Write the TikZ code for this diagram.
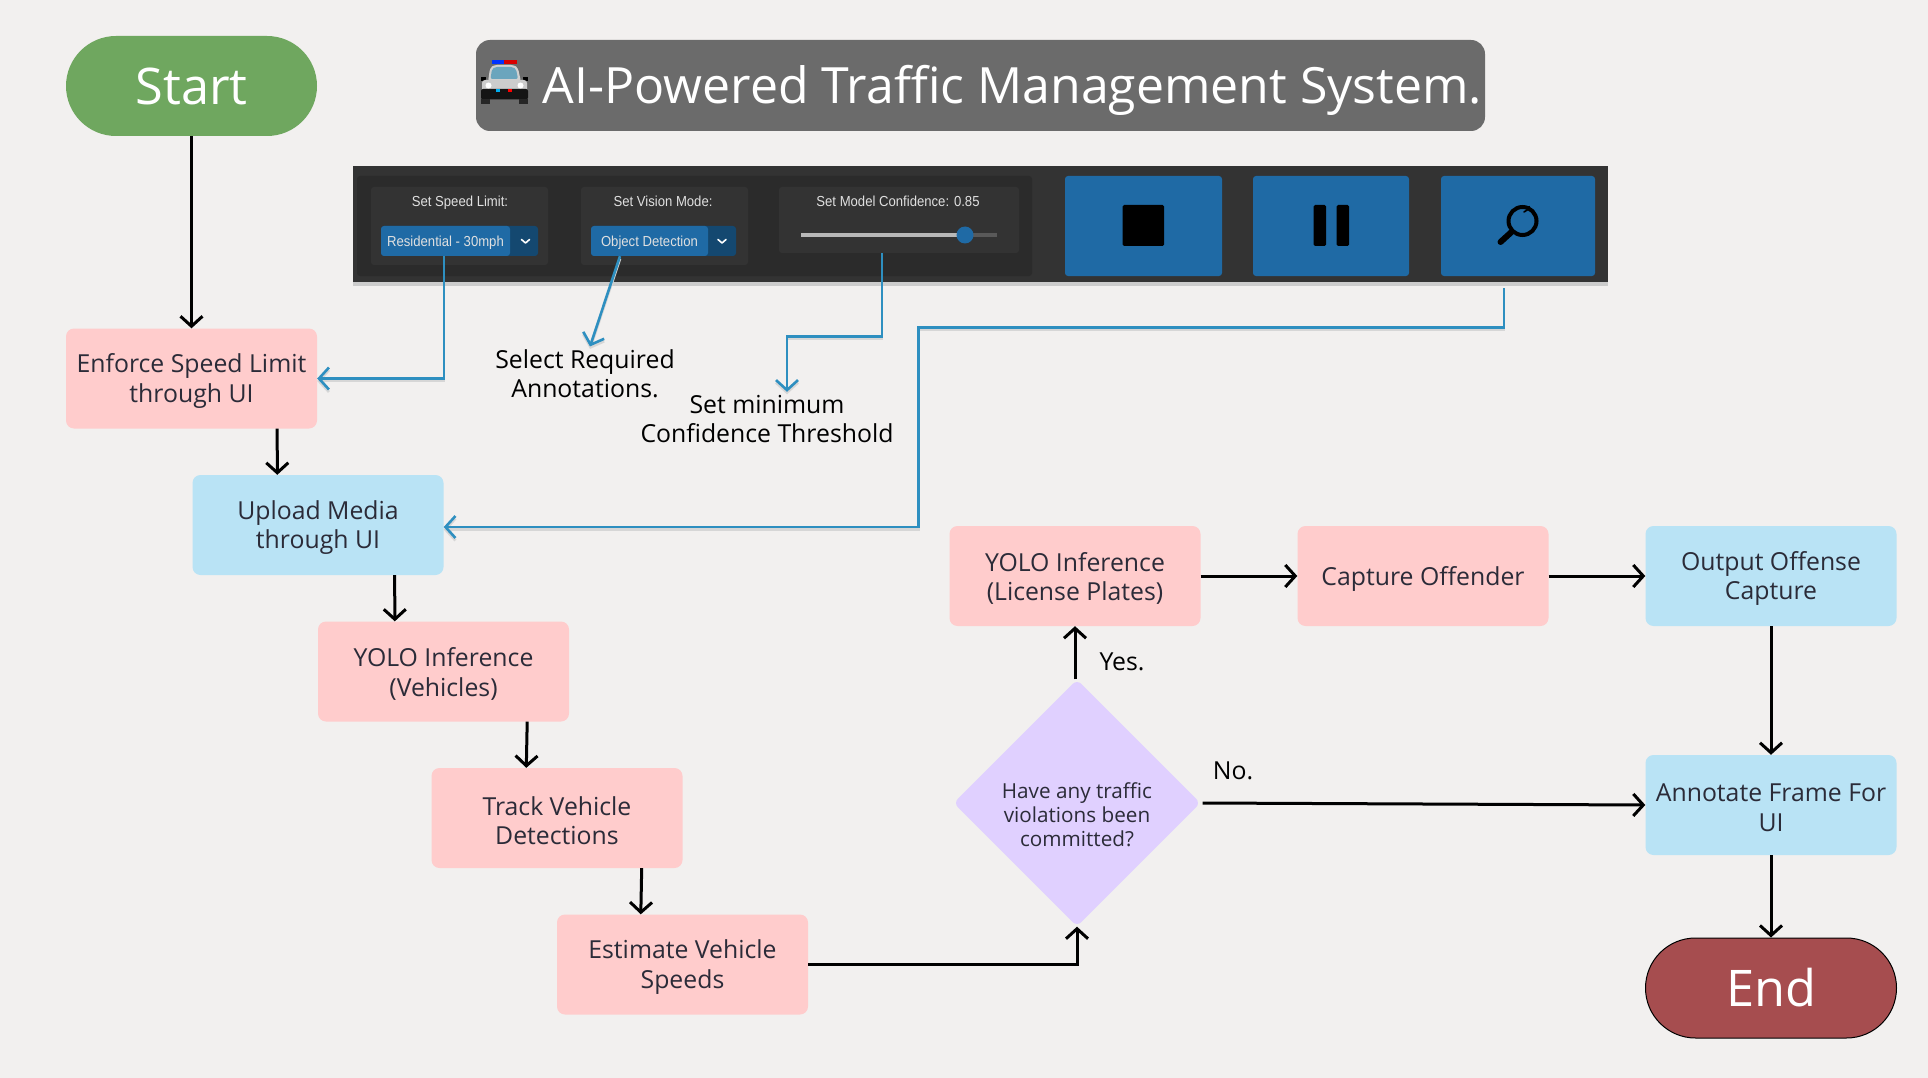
\documentclass[tikz,border=0pt]{standalone}
\usepackage{fontspec}
\usetikzlibrary{shapes.geometric,arrows.meta}
\setmainfont{Open Sans}
\newfontfamily\panelfont[FakeStretch=0.905]{Liberation Sans}

\definecolor{pagebg}{HTML}{F2F0EF}
\definecolor{pinkfill}{HTML}{FFCCCC}
\definecolor{bluefill}{HTML}{B9E3F5}
\definecolor{purplefill}{HTML}{E0D0FF}
\definecolor{startgreen}{HTML}{6FA75F}
\definecolor{endred}{HTML}{A64D4F}
\definecolor{boxtext}{HTML}{2B2B38}
\definecolor{uiblue}{HTML}{1F6AA5}
\definecolor{uidark}{HTML}{144870}
\definecolor{linkblue}{HTML}{2E8FC0}

\tikzset{
  flowbox/.style={rectangle,rounded corners=8pt,minimum width=251pt,minimum height=100pt,inner sep=0pt},
  pinkbox/.style={flowbox,fill=pinkfill},
  bluebox/.style={flowbox,fill=bluefill},
  boxtext/.style={inner sep=0pt,yshift=-2.5pt,align=center,text=boxtext,font=\fontsize{24.8}{29.5}\selectfont},
  pill/.style={rectangle,rounded corners=50pt,minimum width=251pt,minimum height=100pt,inner sep=0pt,text=white,font=\fontsize{50.5}{54}\selectfont},
  flow/.style={black,line width=3pt,-{Straight Barb[length=10pt,width=22pt,line width=3pt]}},
  link/.style={linkblue,line width=2.6pt,-{Straight Barb[length=10pt,width=22pt,line width=2.6pt]},
    preaction={draw=black!16,line width=2.6pt,transform canvas={yshift=-2.5pt}}},
  freelabel/.style={align=center,inner sep=0pt,text=black,font=\fontsize{24.8}{29.5}\selectfont},
  card/.style={rectangle,rounded corners=3pt,fill=black!80,inner sep=0pt},
  uitext/.style={inner sep=0pt,text height=10.5pt,text depth=0pt,text=white!88!black,font=\panelfont\fontsize{14.5}{16}\selectfont},
  selbox/.style={rectangle,rounded corners=3pt,fill=uiblue,minimum height=30pt,inner sep=0pt,text height=10.5pt,text depth=0pt,text=white!88!black,font=\panelfont\fontsize{14.5}{16}\selectfont},
  seldark/.style={rectangle,rounded corners=3pt,fill=uidark,minimum height=30pt,inner sep=0pt},
  uibutton/.style={rectangle,rounded corners=3pt,fill=uiblue,minimum height=100pt,inner sep=0pt},
  chevron/.style={white,line width=1.6pt,line cap=round,line join=round}
}

\begin{document}
\begin{tikzpicture}[x=1pt,y=-1pt]

\useasboundingbox (0,0) rectangle (1928,1078);
\fill [pagebg] (0,0) rectangle (1928,1078);


\node (start) at (191.5,86)[pill,fill=startgreen]{Start};

\node (title) at (980.5,85.5)[rectangle,rounded corners=14pt,fill=black!58,minimum width=1009pt,minimum height=91pt,inner sep=0pt]{};
\node (titletext) at (1012.5,90.5)[inner sep=0pt,text=white,font=\fontsize{50}{54}\selectfont]{AI-Powered Traffic Management System.};


\fill [black!55,rounded corners=8pt] (495.8,83) -- (491,64) -- (517,64) -- (513,83) -- cycle;
\fill [black!18,rounded corners=3pt] (488,82) -- (490,68) -- (494,65) -- (514,65) -- (518,68) -- (521,82) -- cycle;
\fill [cyan!45!gray,rounded corners=2pt] (490.5,79) -- (492,69) -- (495,67) -- (513,67) -- (516,69) -- (518,79) -- cycle;
\fill [blue!80!cyan] (492,60) rectangle (504,64.5);
\fill [red!85!black] (504,60) rectangle (517,64.5);
\fill [black] (480.5,77) rectangle (486,81);
\fill [black] (522.5,77) rectangle (528,81);
\fill [black!20,rounded corners=3pt] (482,80) rectangle (527,92);
\fill [black!92,rounded corners=2pt] (481,89) rectangle (528,99.5);
\fill [white] (488.5,85.5) circle (3pt);
\fill [white] (520.5,85.5) circle (3pt);
\fill [black!85] (481,99) rectangle (490,104);
\fill [black!85] (519,99) rectangle (528,104);
\fill [cyan] (496,89.5) rectangle (500,92);
\fill [red] (508,89.5) rectangle (512,92);


\fill [black!20] (353,172) rectangle (1608,286);
\node (panel) at (980.5,224)[rectangle,fill=black!80,minimum width=1255pt,minimum height=116pt,inner sep=0pt]{};
\node (controls) at (694.5,226)[card,fill=black!83,minimum width=675pt,minimum height=100pt]{};

\node (speedcard) at (459.5,226)[card,minimum width=177pt,minimum height=78pt]{};
\node (speedtext) at (460,201.5)[uitext]{Set Speed Limit:};
\node (speedback) at (459.5,241)[seldark,minimum width=157pt]{};
\node (speedsel) at (445.5,241)[selbox,minimum width=129pt]{Residential - 30mph};
\draw [chevron] (521.5,239.5) -- (525.5,243) -- (529.5,239.5);

\node (modecard) at (664.5,226)[card,minimum width=167pt,minimum height=78pt]{};
\node (modetext) at (663,201.5)[uitext]{Set Vision Mode:};
\node (modeback) at (663.5,241)[seldark,minimum width=145pt]{};
\node (modesel) at (649.5,241)[selbox,minimum width=117pt]{Object Detection};
\draw [chevron] (718,239.5) -- (722,243) -- (726,239.5);

\node (confcard) at (899,220)[card,minimum width=240pt,minimum height=66pt]{};
\node (conftext) at (898,201.5)[uitext]{Set Model Confidence: 0.85};
\node (conftrack) at (898.5,235)[rectangle,fill=black!65,minimum width=196pt,minimum height=4.5pt,inner sep=0pt]{};
\node (confrail) at (883,235)[rectangle,fill=black!28,minimum width=165pt,minimum height=4.5pt,inner sep=0pt]{};
\node (confthumb) at (965,235)[circle,fill=uiblue,minimum size=17pt,inner sep=0pt]{};


\node (stopbtn) at (1143.5,226)[uibutton,minimum width=157pt]{};
\node (pausebtn) at (1331,226)[uibutton,minimum width=156pt]{};
\node (searchbtn) at (1518,226)[uibutton,minimum width=154pt]{};

\fill [black,rounded corners=1.5pt] (1122.5,205) rectangle (1164,246);
\fill [black,rounded corners=1.5pt] (1313.5,205) rectangle (1326,246);
\fill [black,rounded corners=1.5pt] (1336.5,205) rectangle (1349,246);

\draw [black,line width=4pt] (1522.5,221) circle (14pt);
\draw [black,line width=6pt,line cap=round] (1511.5,232) -- (1500.5,242);
\draw [black,line width=1.6pt,line cap=round] (1524,212) arc (-70:-20:9pt);


\node (enforce) at (191.5,378.5)[pinkbox,label={[boxtext]center:Enforce Speed Limit\\through UI}]{};
\node (upload) at (318,525)[bluebox,label={[boxtext]center:Upload Media\\through UI}]{};
\node (yoloveh) at (443.5,671.5)[pinkbox,label={[boxtext]center:YOLO Inference\\(Vehicles)}]{};
\node (track) at (557,818)[pinkbox,label={[boxtext]center:Track Vehicle\\Detections}]{};
\node (estimate) at (682.5,964.5)[pinkbox,label={[boxtext]center:Estimate Vehicle\\Speeds}]{};

\node (yololp) at (1075,576)[pinkbox,label={[boxtext]center:YOLO Inference\\(License Plates)}]{};
\node (capture) at (1423,576)[pinkbox,label={[boxtext]center:Capture Offender}]{};
\node (output) at (1771,576)[bluebox,label={[boxtext]center:Output Offense\\Capture}]{};
\node (annotate) at (1771,805)[bluebox,label={[boxtext]center:Annotate Frame For\\UI}]{};
\node (endnode) at (1771,988)[pill,draw=black,line width=1pt,fill=endred]{End};

\node (decision) at (1077,803)[diamond,aspect=1,rounded corners=6pt,fill=purplefill,minimum width=247pt,minimum height=247pt,inner sep=0pt,label={[boxtext,yshift=-9.5pt,font=\fontsize{20.7}{24}\selectfont]center:Have any traffic\\violations been\\committed?}]{};


\node (modelabel) at (585,374)[freelabel]{Select Required\\Annotations.};
\node (conflabel) at (767,419)[freelabel]{Set minimum\\Confidence Threshold};
\node (yeslabel) at (1122,662)[freelabel]{Yes.};
\node (nolabel) at (1233,771)[freelabel]{No.};


\draw [flow] (start) -- (enforce);
\draw [flow] ([xshift=-40pt]enforce.south east) -- ([xshift=85pt]upload.north west);
\draw [flow] ([xshift=-49pt]upload.south east) -- ([xshift=77pt]yoloveh.north west);
\draw [flow] ([xshift=-42pt]yoloveh.south east) -- ([xshift=95pt]track.north west);
\draw [flow] ([xshift=-41pt]track.south east) -- ([xshift=84pt]estimate.north west);
\draw [flow] (estimate.east) -| (decision.south);
\draw [flow] ([xshift=-2pt]decision.north) -- (yololp.south);
\draw [flow] ([xshift=2pt]decision.east) -- (annotate.west);
\draw [flow] (yololp) -- (capture);
\draw [flow] (capture) -- (output);
\draw [flow] (output) -- (annotate);
\draw [flow] (annotate) -- (endnode);


\draw [link] ([xshift=-1.5pt]speedsel.south) |- (enforce.east);
\draw [link] ([xshift=-29.5pt]modesel.south) -- ([xshift=5pt,yshift=3pt]modelabel.north);
\draw [link] ([xshift=-17pt]confcard.south) -- ++(0,83) -| ([xshift=20pt,yshift=3pt]conflabel.north);
\draw [link] ([xshift=-14pt,yshift=-12pt]searchbtn.south) -- ++(0,39) -- ++(-585.5,0) |- ([yshift=-2pt]upload.east);

\end{tikzpicture}
\end{document}
